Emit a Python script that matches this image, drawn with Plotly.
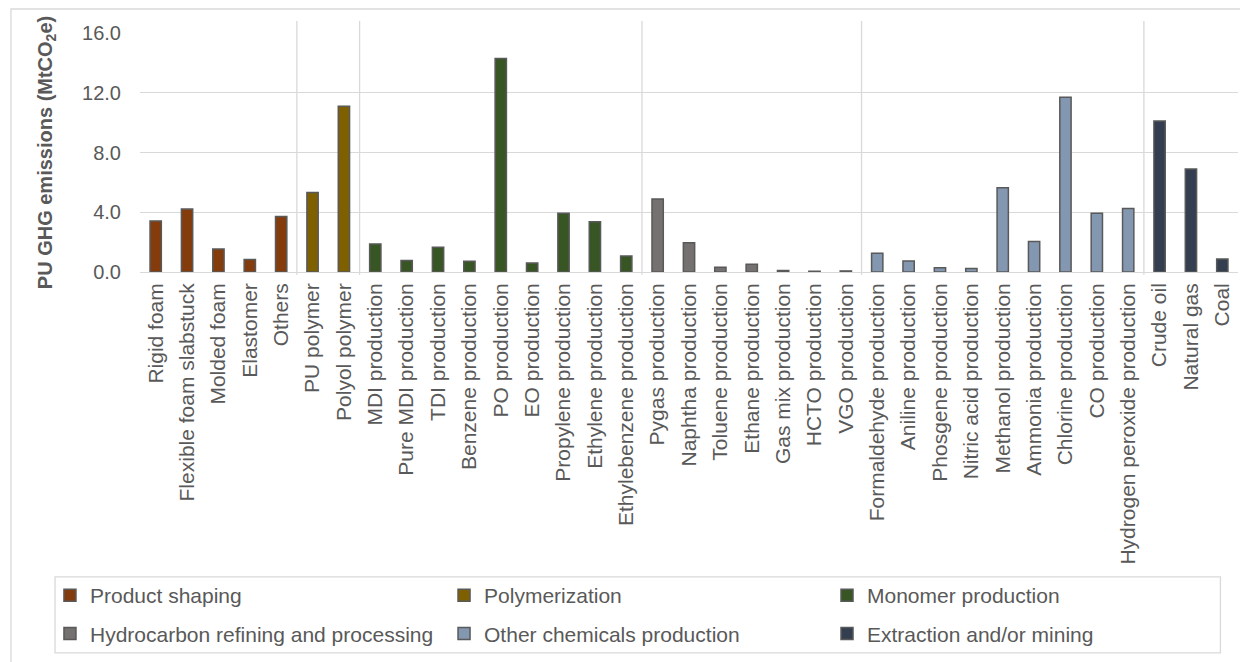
import plotly.graph_objects as go

categories = [
    "Rigid foam", "Flexible foam slabstuck", "Molded foam", "Elastomer", "Others",
    "PU polymer", "Polyol polymer",
    "MDI production", "Pure MDI production", "TDI production", "Benzene production",
    "PO production", "EO production", "Propylene production", "Ethylene production",
    "Ethylebenzene production",
    "Pygas production", "Naphtha production", "Toluene production", "Ethane production",
    "Gas mix production", "HCTO production", "VGO production",
    "Formaldehyde production", "Aniline production", "Phosgene production",
    "Nitric acid production", "Methanol production", "Ammonia production",
    "Chlorine production", "CO production", "Hydrogen peroxide production",
    "Crude oil", "Natural gas", "Coal",
]
values = [
    3.42, 4.21, 1.54, 0.83, 3.72,
    5.33, 11.10,
    1.88, 0.77, 1.66, 0.72, 14.30, 0.60, 3.94, 3.36, 1.07,
    4.88, 1.95, 0.32, 0.52, 0.10, 0.05, 0.07,
    1.25, 0.74, 0.29, 0.23, 5.64, 2.04, 11.70, 3.94, 4.25,
    10.11, 6.89, 0.87,
]
groups = ["Product shaping", "Polymerization", "Monomer production",
          "Hydrocarbon refining and processing", "Other chemicals production",
          "Extraction and/or mining"]
group_sizes = [5, 2, 9, 7, 9, 3]
group_colors = ["#843C0C", "#7F6000", "#375623", "#767171", "#8497B0", "#333F50"]
legend_ids = ["legend", "legend2", "legend3", "legend", "legend2", "legend3"]

FONT = "Liberation Sans, Arial, sans-serif"
TXT = "#595959"
GRID = "#D9D9D9"

fig = go.Figure()
start = 0
for g, n, c, lg in zip(groups, group_sizes, group_colors, legend_ids):
    fig.add_trace(go.Bar(
        x=categories[start:start + n], y=values[start:start + n], name=g,
        marker=dict(color=c, line=dict(color="#595959", width=1.5)),
        width=0.36, legend=lg, legendgroup=g,
    ))
    start += n

# group separators
bounds = []
acc = 0
for n in group_sizes[:-1]:
    acc += n
    bounds.append(acc - 0.5)
shapes = []
for b in bounds:
    shapes.append(dict(type="line", xref="x", yref="paper", x0=b, x1=b,
                       y0=-0.012, y1=1.05, line=dict(color=GRID, width=1.3), layer="below"))
# outer chart border
shapes.append(dict(type="rect", xref="paper", yref="paper", x0=-0.1175, x1=1.02,
                   y0=-1.70, y1=1.1004, line=dict(color=GRID, width=1.3)))
# legend border
shapes.append(dict(type="rect", xref="paper", yref="paper", x0=-0.0774, x1=0.984,
                   y0=-1.594, y1=-1.276, line=dict(color=GRID, width=1.3)))

leg_common = dict(orientation="v", yanchor="top", y=-1.268, xanchor="left",
                  bgcolor="rgba(0,0,0,0)", font=dict(family=FONT, size=21, color=TXT),
                  traceorder="grouped", tracegroupgap=8, title=dict(text=""))
fig.update_layout(
    width=1248, height=662,
    margin=dict(l=132, r=18, t=25, b=398),
    paper_bgcolor="white", plot_bgcolor="white",
    barmode="overlay",
    font=dict(family=FONT, color=TXT),
    shapes=shapes,
    legend=dict(x=-0.082, **leg_common),
    legend2=dict(x=0.2769, **leg_common),
    legend3=dict(x=0.6257, **leg_common),
    showlegend=True,
)
fig.update_xaxes(
    type="category", categoryorder="array", categoryarray=categories,
    range=[-0.5, len(categories) - 0.5],
    tickangle=-90, tickfont=dict(family=FONT, size=21, color=TXT),
    showgrid=False, showline=False, ticks="", ticklabelstandoff=6, automargin=False,
)
fig.update_yaxes(
    range=[0, 16], tickvals=[0, 4, 8, 12, 16], tickformat=".1f",
    tickfont=dict(family=FONT, size=20, color=TXT),
    showgrid=True, gridcolor=GRID, gridwidth=1.3,
    zeroline=True, zerolinecolor=GRID, zerolinewidth=1.3,
    showline=False, ticks="", ticklabelstandoff=18, automargin=False,
    title=dict(text="<b>PU GHG emissions (MtCO<sub>2</sub>e)</b>",
               font=dict(family=FONT, size=20, color=TXT), standoff=24),
)
fig.write_html("out.html")
